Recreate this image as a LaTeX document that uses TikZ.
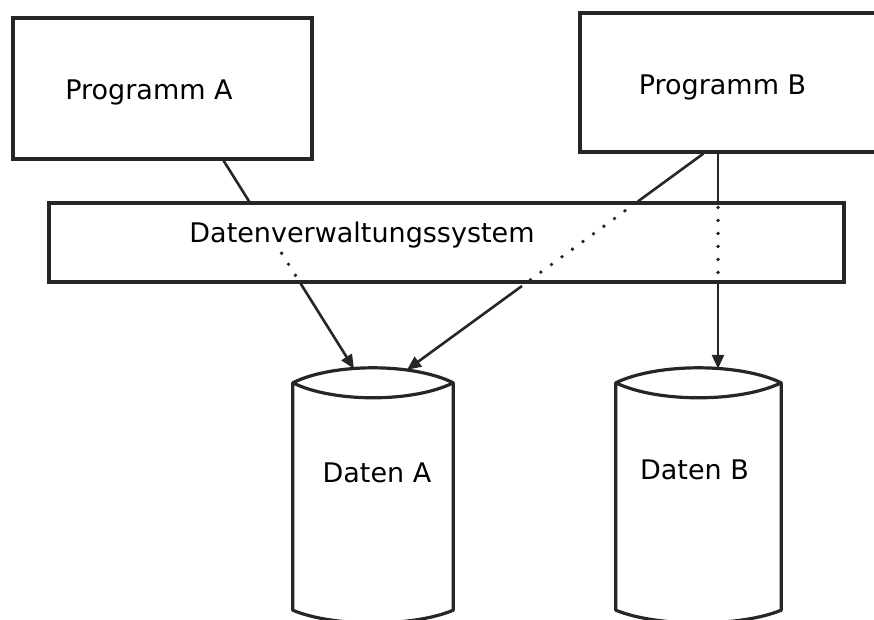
\documentclass[tikz,border=0pt]{standalone}
\usepackage{fontspec}
\setmainfont{DejaVu Sans}
\usetikzlibrary{arrows.meta, calc}

\begin{document}
\begin{tikzpicture}[
    x=1pt, y=-1pt,
    box/.style={rectangle, draw=black!85, line width=3.2pt, inner sep=0pt},
    store/.style={rectangle, inner sep=0pt},
    can/.style={line width=3.2pt, black!85, line join=round},
    lbl/.style={font=\fontsize{27}{32}\selectfont, inner sep=0pt, anchor=base},
    link/.style={line width=2.6pt, black!85},
    arrow/.style={-{Triangle[length=14pt, width=12pt]}, line width=2.6pt, black!85},
    dots/.style={line width=3.8pt, black!85, line cap=round, dash pattern=on 0pt off 13pt}
]
\clip (0,0) rectangle (874,620);

% === Programs ===
\node[box, minimum width=299pt, minimum height=141pt] (progA) at (162.5,88.5) {};
\node[lbl] (labA) at (149,100) {Programm A};
\node[box, minimum width=340pt, minimum height=139pt] (progB) at (750,82.5) {};
\node[lbl] (labB) at (722.5,95) {Programm B};

% === Data management layer ===
\node[box, minimum width=795pt, minimum height=79pt] (dvs) at (446.5,242.5) {};
\node[lbl] (labDvs) at (362,242) {Datenverwaltungssystem};

% === Data stores (body between the rim corners) ===
\node[store, minimum width=160pt, minimum height=227pt] (dataA) at (373,496.5) {};
\node[store, minimum width=165pt, minimum height=227pt] (dataB) at (698.5,496.5) {};
\foreach \s in {dataA, dataB} {
  \draw[can] (\s.north west)
      .. controls ($(\s.north west)!0.25!(\s.north east)+(0,-20)$) and ($(\s.north west)!0.75!(\s.north east)+(0,-20)$) .. (\s.north east)
      .. controls ($(\s.north west)!0.75!(\s.north east)+(0,20)$) and ($(\s.north west)!0.25!(\s.north east)+(0,20)$) .. (\s.north west)
      -- (\s.south west)
      .. controls ($(\s.south west)!0.25!(\s.south east)+(0,17)$) and ($(\s.south west)!0.75!(\s.south east)+(0,17)$) .. (\s.south east)
      -- (\s.north east);
}
\node[lbl] (labDataA) at (377,482) {Daten A};
\node[lbl] (labDataB) at (694.5,479) {Daten B};

% === Program A -> Daten A ===
\coordinate (aOut) at ($(progA.south west)!0.702!(progA.south east)$);
\coordinate (tipA1) at ($(dataA.north)+(-19,-14)$);
\coordinate (aIn) at (intersection of aOut--tipA1 and dvs.north west--dvs.north east);
\coordinate (aDot) at ($(aOut)!0.445!(tipA1)$);
\coordinate (aDown) at (intersection of aOut--tipA1 and dvs.south west--dvs.south east);
\draw[link] (aOut) -- (aIn);
\draw[dots, shorten >=5pt] (aDot) -- (aDown);
\draw[arrow] (aDown) -- (tipA1);

% === Program B -> Daten A ===
\coordinate (bOut) at ($(progB.south west)+(125,0)$);
\coordinate (tipA2) at ($(dataA.north)+(34,-13)$);
\coordinate (bIn) at (intersection of bOut--tipA2 and dvs.north west--dvs.north east);
\coordinate (bDown) at (intersection of bOut--tipA2 and dvs.south west--dvs.south east);
\draw[link] (bOut) -- (bIn);
\draw[dots, shorten <=3pt, shorten >=5pt] (bIn) -- (bDown);
\draw[arrow, shorten <=4pt] (bDown) -- (tipA2);

% === Program B -> Daten B ===
\coordinate (tipB) at ($(dataB.north)+(19.5,-14)$);
\draw[link] (tipB |- progB.south) -- (tipB |- dvs.north);
\draw[dots, shorten <=6pt, shorten >=5pt] (tipB |- dvs.north) -- (tipB |- dvs.south);
\draw[arrow] (tipB |- dvs.south) -- (tipB);

\end{tikzpicture}
\end{document}
